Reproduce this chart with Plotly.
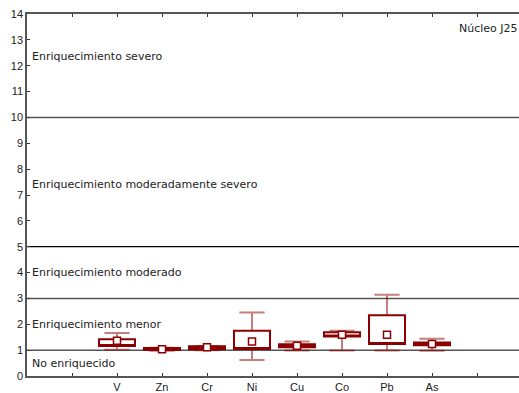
import plotly.graph_objects as go

# ---- data ----
categories = ["V", "Zn", "Cr", "Ni", "Cu", "Co", "Pb", "As"]
center = [1.36, 1.03, 1.11, 1.33, 1.17, 1.60, 1.60, 1.24]
box_low = [1.16, 1.01, 1.03, 1.04, 1.11, 1.53, 1.24, 1.19]
box_high = [1.42, 1.08, 1.15, 1.75, 1.23, 1.69, 2.35, 1.30]
whisk_low = [1.02, 0.98, 1.00, 0.62, 0.99, 0.99, 0.99, 0.98]
whisk_high = [1.66, 1.09, 1.16, 2.46, 1.33, 1.75, 3.14, 1.44]

thresholds = [1, 3, 5, 10]
zone_labels = ["No enriquecido", "Enriquecimiento menor", "Enriquecimiento moderado",
               "Enriquecimiento moderadamente severo", "Enriquecimiento severo"]
zone_label_y = [0.5, 2.0, 4.0, 7.4, 12.35]
y_ticks = list(range(0, 15))
core_label = "Núcleo J25"

positions = list(range(2, 2 + len(categories)))
tick_positions = list(range(1, 11))
tick_text = [""] + categories + [""]

DARK = "#8B0000"
WHISK = "rgba(139,0,0,0.5)"

fig = go.Figure()

# whiskers (behind boxes)
fig.add_trace(go.Box(
    x=positions, q1=center, median=center, q3=center,
    lowerfence=whisk_low, upperfence=whisk_high,
    width=0.8, whiskerwidth=0.7,
    line=dict(color=WHISK, width=2), fillcolor="rgba(0,0,0,0)",
    boxpoints=False, hoverinfo="skip", showlegend=False,
))
# boxes
fig.add_trace(go.Box(
    x=positions, q1=box_low, median=box_low, q3=box_high,
    lowerfence=box_low, upperfence=box_high,
    width=0.8, whiskerwidth=1.0,
    line=dict(color=DARK, width=2), fillcolor="white",
    boxpoints=False, hoverinfo="skip", showlegend=False,
))
# centre points
fig.add_trace(go.Scatter(
    x=positions, y=center, mode="markers",
    marker=dict(symbol="square", size=7, color="white", line=dict(color=DARK, width=1.5)),
    showlegend=False, hoverinfo="skip",
))

for t in thresholds:
    fig.add_hline(y=t, line=dict(color="#000000" if t == 5 else "#555555", width=1.5 if t != 5 else 1.2), layer="below")

for txt, yv in zip(zone_labels, zone_label_y):
    fig.add_annotation(x=0.07, y=yv, text=txt, showarrow=False, xanchor="left", yanchor="middle",
                       font=dict(family="DejaVu Sans", size=11, color="#222222"))

fig.add_annotation(x=9.55, y=13.45, text=core_label, showarrow=False, xanchor="left", yanchor="middle",
                   font=dict(family="DejaVu Sans", size=11, color="#222222"))

fig.update_layout(
    width=519, height=393,
    margin=dict(l=27, r=0, t=14, b=17),
    paper_bgcolor="white", plot_bgcolor="white",
    boxmode="overlay",
    font=dict(family="Liberation Sans", size=11, color="#222222"),
    xaxis=dict(range=[0, 492 / 45], tickmode="array", tickvals=tick_positions, ticktext=tick_text,
               showgrid=False, zeroline=False, showline=True, linecolor="#555555", linewidth=1.5,
               ticks="inside", ticklen=3, tickcolor="#333333", mirror="ticks", automargin=False),
    yaxis=dict(range=[0, 14], tickmode="array", tickvals=y_ticks,
               showgrid=False, zeroline=False, showline=True, linecolor="#555555", linewidth=1.5,
               ticks="inside", ticklen=3, tickcolor="#333333", automargin=False),
)

fig.write_html("out.html", config={"displayModeBar": False},
               post_script="document.body.style.margin='0px';document.body.style.overflow='hidden';")
